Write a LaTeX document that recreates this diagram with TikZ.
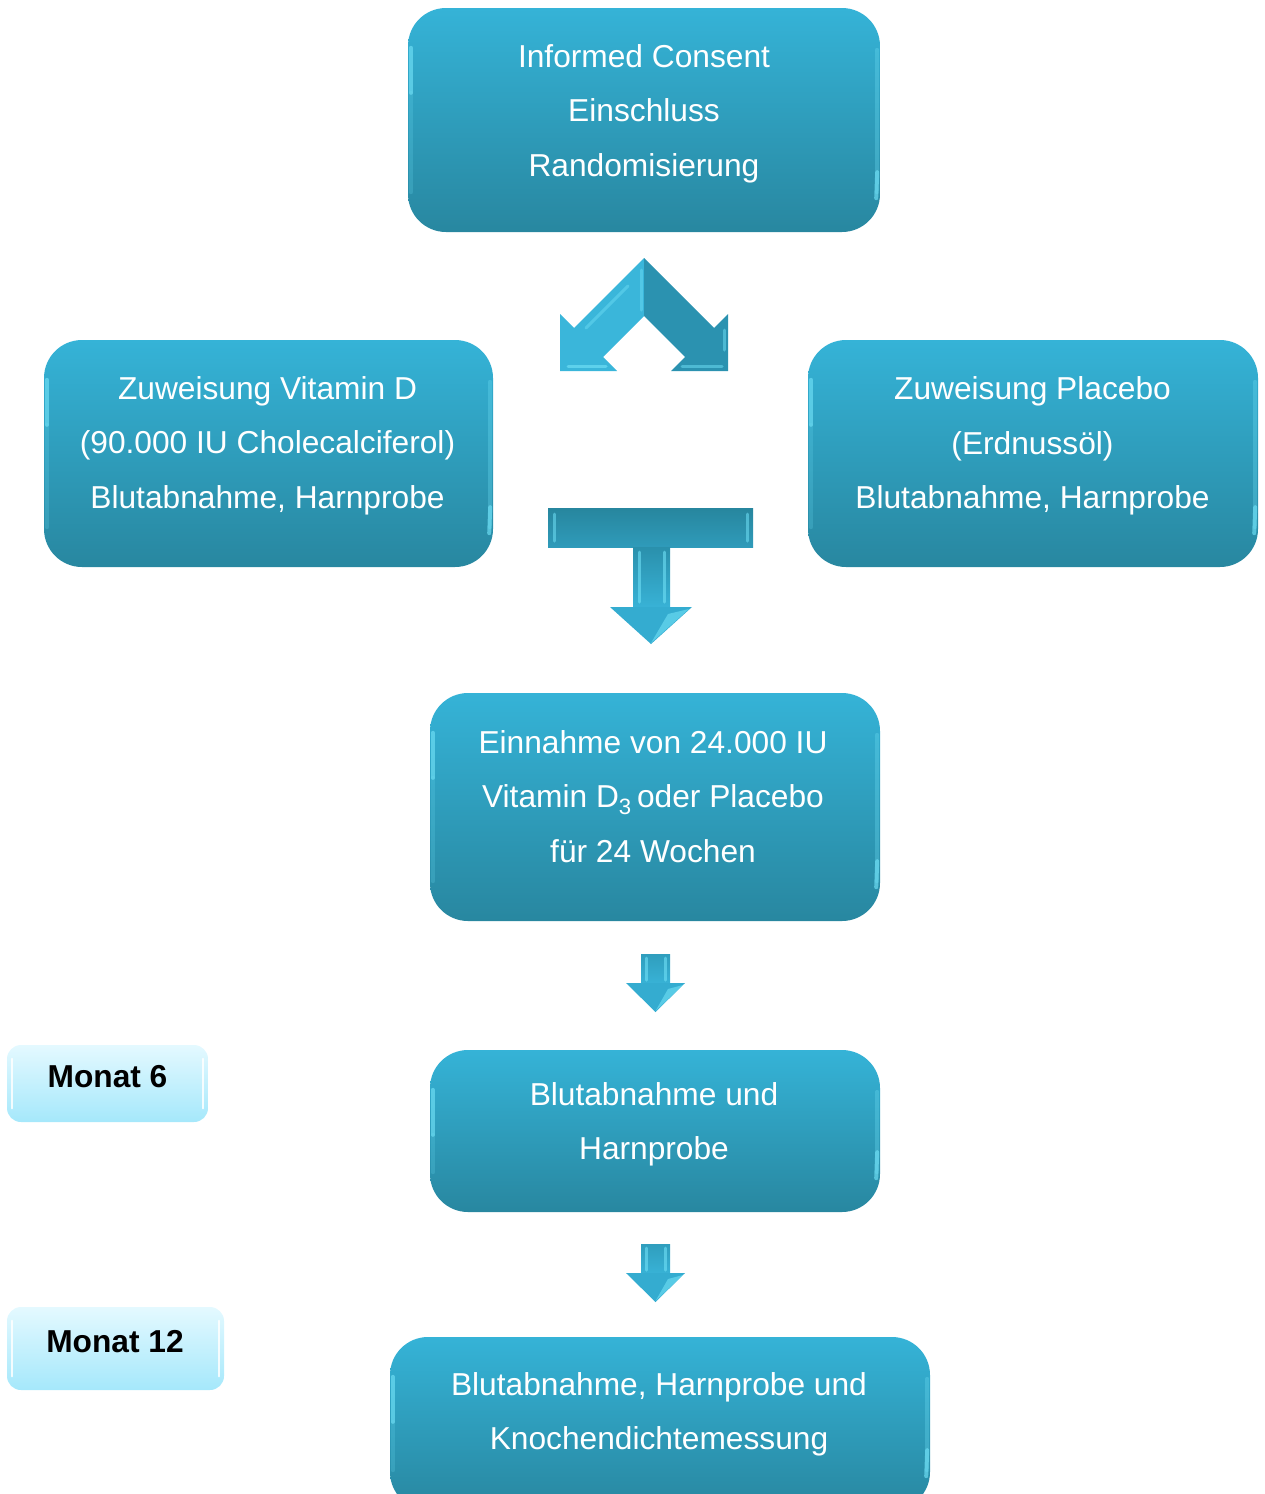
\documentclass[tikz,border=0pt]{standalone}
\usepackage{fontspec}
\setmainfont{Liberation Sans}
\definecolor{boxtop}{RGB}{53,179,215}
\definecolor{boxbot}{RGB}{40,135,160}
\definecolor{arrowmain}{RGB}{52,172,208}
\definecolor{arrowlight}{RGB}{58,182,218}
\definecolor{arrowdark}{RGB}{43,146,176}
\definecolor{bartop}{RGB}{39,134,158}
\definecolor{barbot}{RGB}{47,155,186}
\definecolor{shafttop}{RGB}{42,144,172}
\definecolor{shaftbot}{RGB}{56,178,214}
\definecolor{shinec}{RGB}{112,224,246}
\definecolor{montop}{RGB}{228,249,255}
\definecolor{monbot}{RGB}{165,232,251}
\tikzset{
  bigbox/.style={rounded corners=38pt, top color=boxtop, bottom color=boxbot, draw=none, inner sep=0pt},
  boxtext/.style={text=white, align=center, inner sep=0pt, font=\fontsize{31.7}{54.5}\selectfont},
  monbox/.style={rounded corners=14pt, top color=montop, bottom color=monbot, draw=none, inner sep=0pt},
  montext/.style={text=black, inner sep=0pt, font=\fontsize{31.7}{38}\selectfont\bfseries},
  shine/.style={draw=shinec, line width=3pt, line cap=round, opacity=0.65},
  whiteshine/.style={draw=white, line width=2.5pt, line cap=round, opacity=0.85},
}
\newcommand\boxshine[1]{%
  \draw[shine,line width=4pt] ([xshift=3pt,yshift=-40pt]#1.north west) -- ([xshift=3pt,yshift=-85pt]#1.north west);
  \draw[shine,opacity=0.2,line width=4pt] ([xshift=3pt,yshift=-85pt]#1.north west) -- ([xshift=3pt,yshift=40pt]#1.south west);
  \draw[shine,opacity=0.3,line width=4pt] ([xshift=-3pt,yshift=-42pt]#1.north east) -- ([xshift=-3pt,yshift=40pt]#1.south east);
  \draw[shine,line width=4pt] ([xshift=-3pt,yshift=60pt]#1.south east) -- ([xshift=-4pt,yshift=34pt]#1.south east);
}
\newcommand\monshine[1]{%
  \draw[whiteshine] ([xshift=5pt,yshift=-14pt]#1.north west) -- ([xshift=5pt,yshift=14pt]#1.south west);
  \draw[whiteshine] ([xshift=-5pt,yshift=-14pt]#1.north east) -- ([xshift=-5pt,yshift=14pt]#1.south east);
}
\begin{document}
\begin{tikzpicture}[x=1pt,y=-1pt]
\useasboundingbox (0,0) rectangle (1264,1494);

% --- boxes ---
\node[bigbox, minimum width=472pt, minimum height=224pt] (top) at (644,120) {};
\node[bigbox, minimum width=449pt, minimum height=227pt] (vitd) at (268.5,453.5) {};
\node[bigbox, minimum width=450pt, minimum height=227pt] (plac) at (1033,453.5) {};
\node[bigbox, minimum width=450pt, minimum height=228pt] (intake) at (655,807) {};
\node[bigbox, minimum width=450pt, minimum height=162pt] (m6box) at (655,1131) {};
\node[bigbox, minimum width=540pt, minimum height=173pt] (m12box) at (660,1423.5) {};
\foreach \b in {top,vitd,plac,intake,m6box,m12box} {\boxshine{\b}}

\node[boxtext] (topT) at (644,110.7) {\strut Informed Consent\\ \strut Einschluss\\ \strut Randomisierung};
\node[boxtext] (vitdT) at (267.5,442.7) {\strut Zuweisung Vitamin D\\ \strut (90.000 IU Cholecalciferol)\\ \strut Blutabnahme, Harnprobe};
\node[boxtext] (placT) at (1032.5,443.2) {\strut Zuweisung Placebo\\ \strut (Erdnussöl)\\ \strut Blutabnahme, Harnprobe};
\node[boxtext] (intakeT) at (653,796.7) {\strut Einnahme von 24.000 IU\\ \strut Vitamin D\textsubscript{3}\,oder Placebo\\ \strut für 24 Wochen};
\node[boxtext] (m6boxT) at (654,1121.7) {\strut Blutabnahme und\\ \strut Harnprobe};
\node[boxtext] (m12boxT) at (659,1411.7) {\strut Blutabnahme, Harnprobe und\\ \strut Knochendichtemessung};

% --- month labels ---
\node[monbox, minimum width=201pt, minimum height=77pt] (mon6) at (107.5,1083.5) {};
\node[monbox, minimum width=217pt, minimum height=83pt] (mon12) at (115.5,1348.5) {};
\monshine{mon6}
\monshine{mon12}
\node[montext, anchor=base] (mon6T) at (107.5,1087) {Monat 6};
\node[montext, anchor=base] (mon12T) at (115,1352) {Monat 12};

% --- split chevron arrow ---
\fill[arrowlight] (644,258) -- (574,328) -- (560,314) -- (560,371) -- (617,371) -- (603,357) -- (644,316) -- cycle;
\fill[arrowdark] (644,258) -- (714,328) -- (728,314) -- (728,371) -- (671,371) -- (685,357) -- (644,316) -- cycle;
\draw[shine,opacity=0.45] (628,286) -- (586,328);
\draw[shine,opacity=0.45] (641,270) -- (641,310);
\draw[shine] (568,366) -- (606,366);
\draw[shine,opacity=0.5] (682,366) -- (722,366);
\draw[shine,opacity=0.5] (724,330) -- (724,350);

% --- T arrow ---
\shade[top color=bartop, bottom color=barbot] (548,508) rectangle (753,547);
\draw[shine,opacity=0.55] (554,514) -- (554,541);
\draw[shine,opacity=0.55] (747,514) -- (747,541);
\shade[top color=shafttop, bottom color=shaftbot] (633,547) rectangle (670,607);
\draw[shine,opacity=0.6] (639,552) -- (639,602);
\draw[shine,opacity=0.6] (664,552) -- (664,602);
\fill[arrowmain] (610,607) -- (692,607) -- (651,644) -- cycle;
\fill[shinec,opacity=0.6] (651,643) -- (689,609) -- (668,614) -- cycle;

% --- small arrows ---
\foreach \dy in {0,290} {
  \shade[top color=shafttop!60!shaftbot, bottom color=shaftbot] (641,954+\dy) rectangle (670,983+\dy);
  \draw[shine,opacity=0.6] (646,958+\dy) -- (646,980+\dy);
  \draw[shine,opacity=0.6] (665,958+\dy) -- (665,980+\dy);
  \fill[arrowmain] (626,983+\dy) -- (685,983+\dy) -- (655.5,1012+\dy) -- cycle;
  \fill[shinec,opacity=0.6] (655.5,1011+\dy) -- (683,985+\dy) -- (668,989+\dy) -- cycle;
}
\end{tikzpicture}
\end{document}
